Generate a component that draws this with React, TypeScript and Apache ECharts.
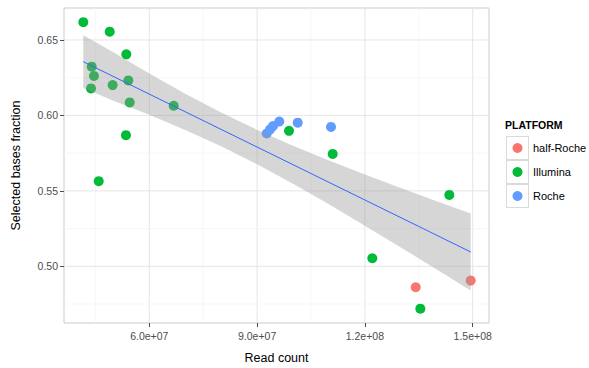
import React, { useEffect, useRef } from "react";
import * as echarts from "echarts";

// ---- data ----
const illuminaX = [4.163e7, 4.898e7, 5.36e7, 4.397e7, 4.46e7, 4.377e7, 4.98e7, 5.416e7, 5.455e7, 6.679e7, 5.35e7, 4.592e7, 9.888e7, 1.1104e8, 1.435e8, 1.2207e8, 1.3543e8];
const illuminaY = [0.6618, 0.6555, 0.6405, 0.6323, 0.6261, 0.6179, 0.6201, 0.6232, 0.6086, 0.6064, 0.5869, 0.5564, 0.5898, 0.5745, 0.5473, 0.5053, 0.4719];
const rocheX = [9.267e7, 9.359e7, 9.443e7, 9.618e7, 1.013e8, 1.1057e8];
const rocheY = [0.588, 0.5906, 0.5929, 0.5959, 0.5952, 0.5924];
const halfRocheX = [1.3414e8, 1.4944e8];
const halfRocheY = [0.4861, 0.4905];

const fitX = [4.163e7, 1.4944e8];
const fitY = [0.6356, 0.5095];

const bandX = [4.163e7, 5e7, 6e7, 7e7, 8e7, 9e7, 1.0e8, 1.1e8, 1.2e8, 1.3e8, 1.4e8, 1.4944e8];
const bandLower = [0.6181, 0.6098, 0.6004, 0.5904, 0.5795, 0.5676, 0.5547, 0.5411, 0.5269, 0.5125, 0.4979, 0.484];
const bandUpper = [0.6531, 0.6418, 0.6278, 0.6144, 0.6019, 0.5904, 0.5799, 0.5701, 0.5609, 0.5519, 0.5431, 0.535];

const platforms = ["half-Roche", "Illumina", "Roche"];
const platformColors = ["#F8766D", "#00BA38", "#619CFF"];

const xTickValues = [6e7, 9e7, 1.2e8, 1.5e8];
const xTickLabels = ["6.0e+07", "9.0e+07", "1.2e+08", "1.5e+08"];
const xMinorValues = [4.5e7, 7.5e7, 1.05e8, 1.35e8];
const yTickValues = [0.5, 0.55, 0.6, 0.65];
const yTickLabels = ["0.50", "0.55", "0.60", "0.65"];
const yMinorValues = [0.475, 0.525, 0.575, 0.625];

const X_MIN = 3.626e7;
const X_MAX = 1.5454e8;
const Y_MIN = 0.4624;
const Y_MAX = 0.6712;

const FONT = "'Liberation Sans', Arial, sans-serif";

function zip(xs: number[], ys: number[]) {
  return xs.map((x, i) => [x, ys[i]]);
}

export default function App() {
  const ref = useRef<HTMLDivElement>(null);
  useEffect(() => {
    const chart = echarts.init(ref.current!, null, { renderer: "svg" });
    const gridData: any[] = [
      ...xTickValues.map((v) => [v, Y_MIN, 0, 1]),
      ...xMinorValues.map((v) => [v, Y_MIN, 0, 0]),
      ...yTickValues.map((v) => [X_MIN, v, 1, 1]),
      ...yMinorValues.map((v) => [X_MIN, v, 1, 0]),
    ];
    const legendGraphics: any[] = [
      {
        type: "text",
        left: 505,
        top: 119,
        style: { text: "PLATFORM", font: `bold 10.5px ${FONT}`, fill: "#000" },
      },
    ];
    platforms.forEach((p, i) => {
      const cy = 148 + i * 24;
      legendGraphics.push({
        type: "rect",
        shape: { x: 506.5, y: cy - 11.5, width: 22, height: 23 },
        style: { fill: "#fff", stroke: "#d9d9d9", lineWidth: 1 },
      });
      legendGraphics.push({
        type: "circle",
        shape: { cx: 517.5, cy, r: 5 },
        style: { fill: platformColors[i] },
      });
      legendGraphics.push({
        type: "text",
        x: 533,
        y: cy,
        style: { text: p, font: `11px ${FONT}`, fill: "#000", textVerticalAlign: "middle", verticalAlign: "middle" },
      });
    });

    const option: any = {
      animation: false,
      backgroundColor: "#fff",
      textStyle: { fontFamily: FONT },
      grid: {
        left: 64,
        top: 8,
        width: 425,
        height: 315,
        show: true,
        borderColor: "#cccccc",
        borderWidth: 1,
        backgroundColor: "#fff",
        containLabel: false,
        outerBoundsMode: "none",
      },
      xAxis: {
        type: "value",
        min: X_MIN,
        max: X_MAX,
        name: "Read count",
        nameLocation: "middle",
        nameGap: 28,
        nameTextStyle: { fontSize: 12.5, color: "#000", fontFamily: FONT },
        axisLine: { show: false },
        splitLine: { show: false },
        axisTick: {
          show: true,
          customValues: xTickValues,
          length: 4,
          lineStyle: { color: "#4d4d4d" },
        },
        axisLabel: {
          customValues: xTickValues,
          color: "#4d4d4d",
          fontSize: 10.5,
          margin: 7,
          fontFamily: FONT,
          formatter: (v: number) => {
            const i = xTickValues.findIndex((t) => Math.abs(t - v) < 10);
            return i >= 0 ? xTickLabels[i] : "";
          },
        },
      },
      yAxis: {
        type: "value",
        min: Y_MIN,
        max: Y_MAX,
        name: "Selected bases fraction",
        nameLocation: "middle",
        nameGap: 42,
        nameTextStyle: { fontSize: 12.5, color: "#000", fontFamily: FONT },
        axisLine: { show: false },
        splitLine: { show: false },
        axisTick: {
          show: true,
          customValues: yTickValues,
          length: 4,
          lineStyle: { color: "#4d4d4d" },
        },
        axisLabel: {
          customValues: yTickValues,
          color: "#4d4d4d",
          fontSize: 10.5,
          margin: 6,
          fontFamily: FONT,
          formatter: (v: number) => {
            const i = yTickValues.findIndex((t) => Math.abs(t - v) < 1e-6);
            return i >= 0 ? yTickLabels[i] : "";
          },
        },
      },
      series: [
        {
          type: "custom",
          name: "grid",
          z: 1,
          silent: true,
          data: gridData,
          renderItem: (params: any, api: any) => {
            const cs = params.coordSys;
            const isH = api.value(2) === 1;
            const major = api.value(3) === 1;
            const stroke = major ? "#e5e5e5" : "#f5f5f5";
            if (isH) {
              const p = api.coord([X_MIN, api.value(1)]);
              return {
                type: "line",
                shape: { x1: cs.x, y1: p[1], x2: cs.x + cs.width, y2: p[1] },
                style: { stroke, lineWidth: major ? 1 : 0.8 },
              };
            }
            const p = api.coord([api.value(0), Y_MIN]);
            return {
              type: "line",
              shape: { x1: p[0], y1: cs.y, x2: p[0], y2: cs.y + cs.height },
              style: { stroke, lineWidth: major ? 1 : 0.8 },
            };
          },
        },
        {
          type: "scatter",
          name: "half-Roche",
          z: 2,
          symbolSize: 10,
          itemStyle: { color: platformColors[0], opacity: 1 },
          data: zip(halfRocheX, halfRocheY),
        },
        {
          type: "scatter",
          name: "Illumina",
          z: 2,
          symbolSize: 10,
          itemStyle: { color: platformColors[1], opacity: 1 },
          data: zip(illuminaX, illuminaY),
        },
        {
          type: "scatter",
          name: "Roche",
          z: 2,
          symbolSize: 10,
          itemStyle: { color: platformColors[2], opacity: 1 },
          data: zip(rocheX, rocheY),
        },
        {
          type: "custom",
          name: "band",
          z: 3,
          silent: true,
          data: [[bandX[0], bandLower[0]]],
          renderItem: (params: any, api: any) => {
            const pts: number[][] = [];
            bandX.forEach((x, i) => pts.push(api.coord([x, bandUpper[i]])));
            for (let i = bandX.length - 1; i >= 0; i--) pts.push(api.coord([bandX[i], bandLower[i]]));
            return {
              type: "polygon",
              shape: { points: pts },
              style: { fill: "rgba(153,153,153,0.4)" },
            };
          },
        },
        {
          type: "line",
          name: "fit",
          z: 4,
          silent: true,
          symbol: "none",
          lineStyle: { color: "#3366FF", width: 1 },
          data: zip(fitX, fitY),
        },
      ],
      graphic: legendGraphics,
    };
    chart.setOption(option);
    return () => chart.dispose();
  }, []);
  return (
    <div
      ref={ref}
      style={{ position: "absolute", left: 0, top: 0, width: 589, height: 368, background: "#fff" }}
    />
  );
}
